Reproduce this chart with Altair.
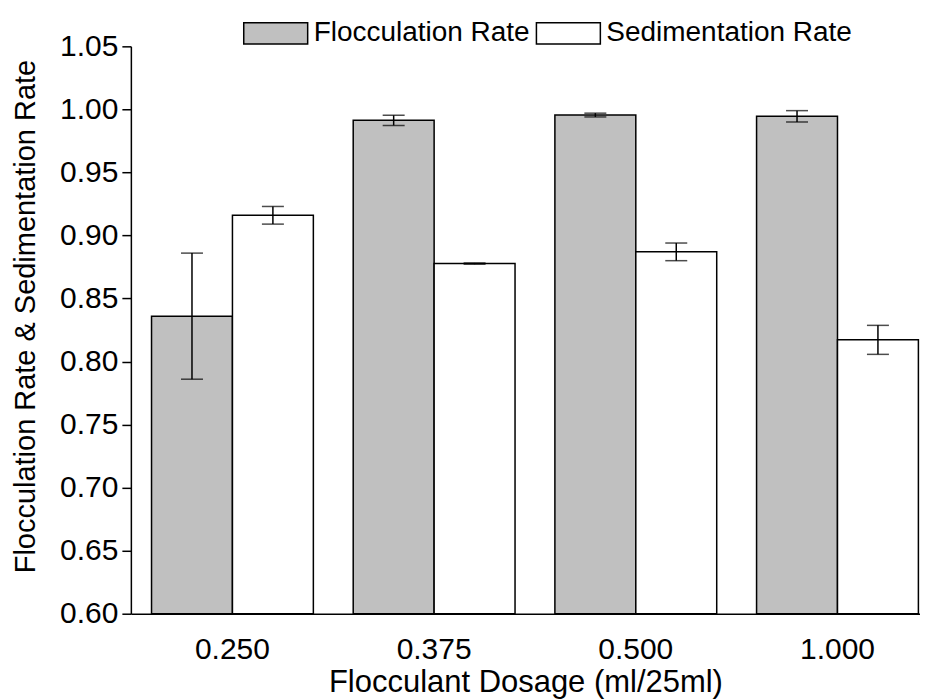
import altair as alt
import pandas as pd

dosages = ["0.250", "0.375", "0.500", "1.000"]
series = ["Flocculation Rate", "Sedimentation Rate"]
floc_values = [0.836, 0.9913, 0.9955, 0.9945]
floc_errors = [0.050, 0.004, 0.0015, 0.0045]
sed_values = [0.916, 0.8777, 0.887, 0.8172]
sed_errors = [0.007, 0.0005, 0.007, 0.0115]
y_ticks = [round(0.60 + 0.025 * i, 3) for i in range(19)]

rows = []
for d, v, e in zip(dosages, floc_values, floc_errors):
    rows.append({"dosage": d, "series": series[0], "value": v, "lo": v - e, "hi": v + e})
for d, v, e in zip(dosages, sed_values, sed_errors):
    rows.append({"dosage": d, "series": series[1], "value": v, "lo": v - e, "hi": v + e})
df = pd.DataFrame(rows)

FONT = "Liberation Sans"

x_enc = alt.X(
    "dosage:N",
    sort=dosages,
    scale=alt.Scale(paddingInner=0.1976, paddingOuter=0.0552, align=0.928),
    axis=alt.Axis(
        title="Flocculant Dosage (ml/25ml)",
        labelAngle=0,
        ticks=False,
        labelPadding=21,
        labelFontSize=30,
        titleFontSize=31,
        titleFontWeight="normal",
        titlePadding=3,
        domainColor="black",
        domainWidth=1.5,
        labelColor="black",
        titleColor="black",
        labelFont=FONT,
        titleFont=FONT,
    ),
)
xo_enc = alt.XOffset("series:N", sort=series, scale=alt.Scale(paddingInner=0, paddingOuter=0))
y_scale = alt.Scale(domain=[0.60, 1.05], zero=False, nice=False)

bars = alt.Chart(df).mark_bar(stroke="black", strokeWidth=1.5, opacity=1).encode(
    x=x_enc,
    xOffset=xo_enc,
    y=alt.Y(
        "value:Q",
        scale=y_scale,
        axis=alt.Axis(
            title="Flocculation Rate & Sedimentation Rate",
            values=y_ticks,
            labelExpr="round(datum.value*1000) % 50 == 0 ? format(datum.value, '.2f') : ''",
            labelOverlap=False,
            tickSize={"condition": {"test": "round(datum.value*1000) % 50 == 0", "value": 9}, "value": 5},
            tickColor="black",
            tickWidth=1.5,
            domainColor="black",
            domainWidth=1.5,
            grid=False,
            labelFontSize=30,
            titleFontSize=29,
            titleFontWeight="normal",
            labelPadding=4,
            titlePadding=19,
            titleY=270,
            labelColor="black",
            titleColor="black",
            labelFont=FONT,
            titleFont=FONT,
        ),
    ),
    y2=alt.datum(0.60),
    fill=alt.Fill(
        "series:N",
        sort=series,
        scale=alt.Scale(domain=series, range=["#c0c0c0", "#ffffff"]),
        legend=alt.Legend(
            title=None,
            orient="none",
            direction="horizontal",
            legendX=112,
            legendY=-46,
            symbolType="M-1,-0.33H1V0.33H-1Z",
            symbolSize=4096,
            symbolStrokeColor="black",
            symbolStrokeWidth=1.5,
            symbolOpacity=1,
            labelFontSize=28,
            labelFont=FONT,
            labelColor="black",
            labelLimit=0,
            labelOffset=5,
            columnPadding=3,
        ),
    ),
)

err = alt.Chart(df).mark_rule(color="black", strokeWidth=1.5).encode(
    x=alt.X("dosage:N", sort=dosages),
    xOffset=alt.XOffset("series:N", sort=series),
    y=alt.Y("lo:Q", scale=y_scale),
    y2="hi:Q",
)
cap_lo = alt.Chart(df).mark_tick(color="black", thickness=1.5, size=22, orient="horizontal").encode(
    x=alt.X("dosage:N", sort=dosages),
    xOffset=alt.XOffset("series:N", sort=series),
    y=alt.Y("lo:Q", scale=y_scale),
)
cap_hi = alt.Chart(df).mark_tick(color="black", thickness=1.5, size=22, orient="horizontal").encode(
    x=alt.X("dosage:N", sort=dosages),
    xOffset=alt.XOffset("series:N", sort=series),
    y=alt.Y("hi:Q", scale=y_scale),
)

chart = alt.layer(bars, err, cap_lo, cap_hi).properties(
    width=790,
    height=568,
    autosize=alt.AutoSizeParams(type="none"),
    padding={"left": 123, "top": 38, "right": 0, "bottom": 86},
).configure_view(stroke=None)

chart.save("out.html", embed_options={"renderer": "svg", "actions": False})
